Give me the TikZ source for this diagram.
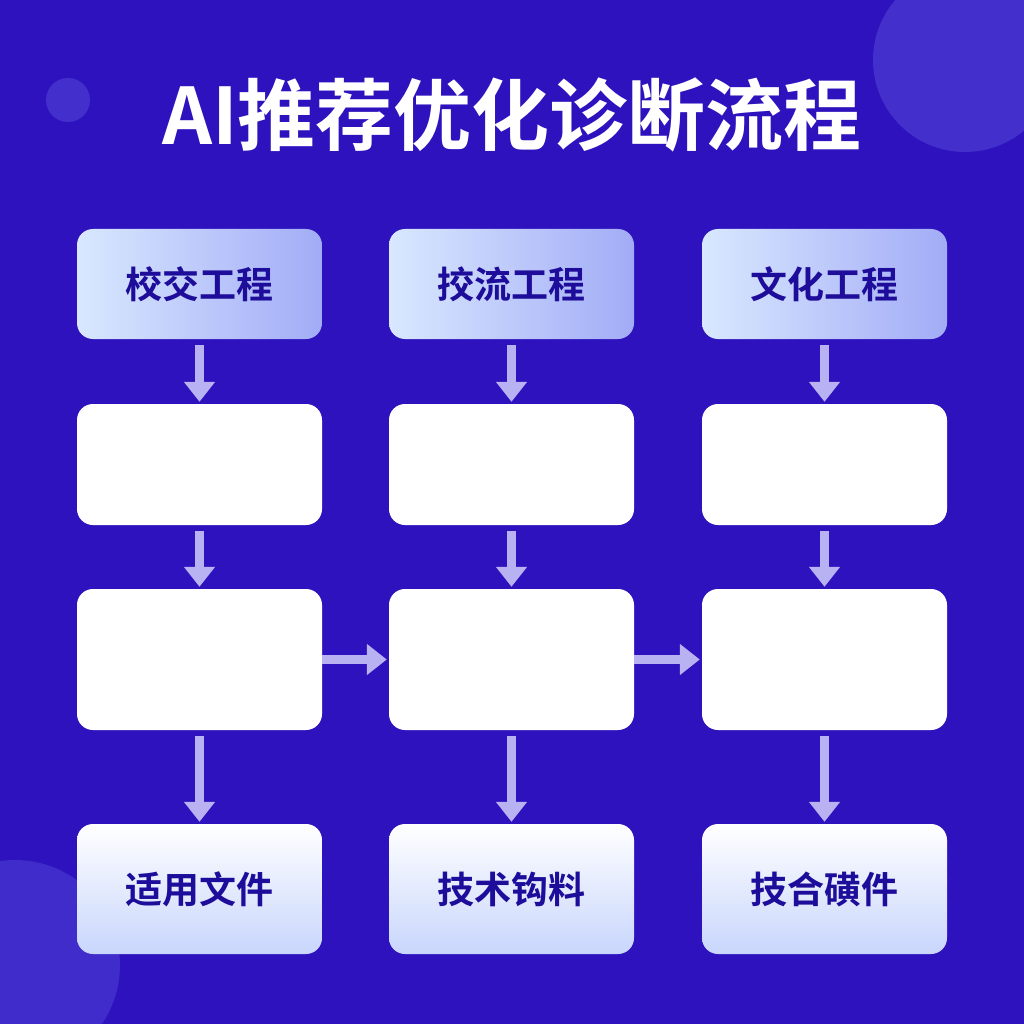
\documentclass[tikz,border=0pt]{standalone}
\usepackage{fontspec}
\newfontfamily\cjk{Noto Sans CJK SC}[BoldFont={* Bold}]
\usetikzlibrary{positioning,arrows.meta}
\definecolor{bgblue}{HTML}{2E12BE}
\definecolor{deco}{HTML}{4330CC}
\definecolor{inkblue}{HTML}{1E0C9A}
\definecolor{topa}{HTML}{D9E8FF}
\definecolor{topb}{HTML}{A2ACF6}
\definecolor{arrowc}{HTML}{B9B2F2}
\begin{document}
\begin{tikzpicture}[x=1pt,y=-1pt,
  box/.style={rectangle,rounded corners=16pt,minimum width=245pt,inner sep=0pt,draw=none,
    font=\cjk\bfseries\fontsize{37}{40}\selectfont,text=inkblue},
  head/.style={box,minimum height=110pt,left color=topa,right color=topb},
  plain/.style={box,fill=white},
  foot/.style={box,minimum height=130pt,top color=white,bottom color=topa!70!topb},
  flow/.style={draw=arrowc,line width=9pt,-{Triangle[length=20pt,width=30pt]},shorten >=2pt,shorten <=6pt}
  ]
  \fill[bgblue] (0,0) rectangle (1024,1024);
  \useasboundingbox (0,0) rectangle (1024,1024);
  % decoration
  \fill[deco] (965,60) circle (92);
  \fill[deco] (68,100) circle (22);
  \fill[deco!85!bgblue] (15,965) circle (105);
  \node[text=white,font=\cjk\bfseries\fontsize{78}{84}\selectfont] (title) at (512,115) {AI推荐优化诊断流程};
  % columns
  \foreach \n/\x/\a/\b in {a/199.5/校交工程/适用文件, b/511.5/挍流工程/技术钩料, c/824.5/文化工程/技合磺件} {
    \node[head] (\n1) at (\x,284) {\a};
    \node[plain,minimum height=121pt] (\n2) at (\x,464.5) {};
    \node[plain,minimum height=141pt] (\n3) at (\x,659.5) {};
    \node[foot] (\n4) at (\x,889) {\b};
    \draw[flow] (\n1) -- (\n2);
    \draw[flow] (\n2) -- (\n3);
    \draw[flow] (\n3) -- (\n4);
  }
  \draw[flow,shorten <=0pt] (a3) -- (b3);
  \draw[flow,shorten <=0pt] (b3) -- (c3);
\end{tikzpicture}
\end{document}
